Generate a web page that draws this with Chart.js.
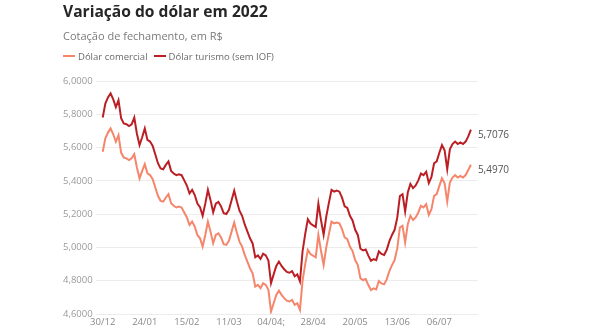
<!DOCTYPE html>
<html>
<head>
<meta charset="utf-8">
<script src="https://cdn.jsdelivr.net/npm/chart.js@4/dist/chart.umd.min.js"></script>
<style>
  body { margin: 0; background: #fff; font-family: "Open Sans", sans-serif; }
  #wrap { position: relative; width: 590px; height: 330px; }
  #chart { position: absolute; left: 0; top: 0; }
  .title { position: absolute; left: 63px; top: 3px; font-size: 15.6px; font-weight: 700; color: #262626; line-height: 16px; white-space: nowrap; }
  .subtitle { position: absolute; left: 63px; top: 30px; font-size: 11px; color: #7a7a7a; line-height: 11px; white-space: nowrap; }
  .legend { position: absolute; left: 63px; top: 51px; font-size: 9.5px; color: #6a6a6a; line-height: 12px; white-space: nowrap; }
  .legend span.sw { display: inline-block; width: 12px; height: 2px; vertical-align: middle; margin-right: 3px; position: relative; top: -1px; }
  .legend span.item { margin-right: 6px; }
</style>
</head>
<body>
<div id="wrap">
  <canvas id="chart" width="590" height="330"></canvas>
  <div class="title">Variação do dólar em 2022</div>
  <div class="subtitle">Cotação de fechamento, em R$</div>
  <div class="legend" id="legend"></div>
</div>
<script>
// Closing quotes, one value per trading day from 30/12/2021
const comercial = [
  5.575, 5.655, 5.69, 5.715, 5.68, 5.635, 5.675, 5.57, 5.54, 5.535,
  5.525, 5.535, 5.56, 5.48, 5.415, 5.46, 5.50, 5.445, 5.435, 5.41,
  5.36, 5.31, 5.28, 5.275, 5.30, 5.32, 5.265, 5.25, 5.24, 5.245,
  5.24, 5.21, 5.18, 5.135, 5.155, 5.125, 5.075, 5.055, 5.005, 5.075,
  5.155, 5.095, 5.025, 5.075, 5.085, 5.06, 5.02, 5.015, 5.04, 5.095,
  5.15, 5.09, 5.035, 5.005, 4.955, 4.915, 4.875, 4.845, 4.765, 4.775,
  4.755, 4.785, 4.775, 4.745, 4.615, 4.665, 4.715, 4.74, 4.715, 4.695,
  4.68, 4.675, 4.685, 4.655, 4.665, 4.625, 4.80, 4.90, 4.985, 4.96,
  4.95, 4.94, 5.075, 4.98, 4.895, 5.00, 5.08, 5.155, 5.145, 5.15,
  5.145, 5.11, 5.06, 5.05, 5.005, 4.978, 4.924, 4.894, 4.814, 4.804,
  4.81, 4.774, 4.744, 4.754, 4.748, 4.798, 4.784, 4.778, 4.808, 4.858,
  4.894, 4.924, 4.994, 5.12, 5.13, 5.03, 5.14, 5.19, 5.165, 5.18,
  5.21, 5.25, 5.24, 5.26, 5.195, 5.23, 5.31, 5.32, 5.37, 5.415,
  5.385, 5.275, 5.39, 5.42, 5.435, 5.42, 5.43, 5.42, 5.435, 5.465,
  5.497
];
const turismo = [
  5.781, 5.864, 5.901, 5.926, 5.890, 5.843, 5.885, 5.776, 5.745, 5.740,
  5.729, 5.740, 5.78, 5.683, 5.615, 5.662, 5.715, 5.646, 5.636, 5.610,
  5.558, 5.506, 5.475, 5.470, 5.496, 5.517, 5.460, 5.444, 5.434, 5.439,
  5.434, 5.403, 5.372, 5.325, 5.346, 5.315, 5.263, 5.242, 5.190, 5.263,
  5.346, 5.284, 5.211, 5.263, 5.273, 5.247, 5.206, 5.201, 5.226, 5.284,
  5.341, 5.278, 5.221, 5.190, 5.138, 5.097, 5.055, 5.024, 4.941, 4.952,
  4.931, 4.962, 4.952, 4.921, 4.786, 4.838, 4.889, 4.915, 4.889, 4.869,
  4.853, 4.848, 4.858, 4.827, 4.838, 4.796, 4.978, 5.081, 5.169, 5.144,
  5.133, 5.123, 5.263, 5.164, 5.076, 5.185, 5.268, 5.346, 5.335, 5.341,
  5.335, 5.299, 5.247, 5.237, 5.190, 5.162, 5.106, 5.075, 4.992, 4.982,
  4.988, 4.951, 4.920, 4.930, 4.924, 4.976, 4.961, 4.955, 4.986, 5.038,
  5.075, 5.106, 5.179, 5.309, 5.320, 5.216, 5.330, 5.382, 5.356, 5.372,
  5.403, 5.444, 5.434, 5.455, 5.387, 5.424, 5.506, 5.517, 5.569, 5.615,
  5.584, 5.470, 5.589, 5.621, 5.636, 5.621, 5.631, 5.621, 5.636, 5.667,
  5.7076
];
// x-axis labels, one every 16 trading days
const tickLabels = ['30/12', '24/01', '15/02', '11/03', '04/04;', '28/04', '20/05', '13/06', '06/07'];
const tickEvery = 16;
const yTicks = [4.6, 4.8, 5.0, 5.2, 5.4, 5.6, 5.8, 6.0];

const seriesNames = ['Dólar comercial', 'Dólar turismo (sem IOF)'];
const colors = ['#f5866c', '#bb1f24'];

const fmt = v => v.toFixed(4).replace('.', ',');
const font = { family: 'Open Sans', size: 9.5 };

// legend
document.getElementById('legend').innerHTML = seriesNames.map((n, i) =>
  '<span class="item"><span class="sw" style="background:' + colors[i] + '"></span>' + n + '</span>'
).join('');

// value label at the end of each line
const endLabels = {
  id: 'endLabels',
  afterDatasetsDraw(chart) {
    const ctx = chart.ctx;
    chart.data.datasets.forEach((ds, i) => {
      const meta = chart.getDatasetMeta(i);
      const pt = meta.data[meta.data.length - 1];
      const last = ds.data[ds.data.length - 1].y;
      ctx.save();
      ctx.font = '10px "Open Sans"';
      ctx.fillStyle = '#555';
      ctx.textBaseline = 'middle';
      ctx.fillText(fmt(last), pt.x + 7, pt.y + 5);
      ctx.restore();
    });
  }
};

const toPoints = arr => arr.map((v, i) => ({ x: i, y: v }));

new Chart(document.getElementById('chart'), {
  type: 'line',
  data: {
    datasets: [comercial, turismo].map((arr, i) => ({
      label: seriesNames[i],
      data: toPoints(arr),
      borderColor: colors[i],
      backgroundColor: colors[i],
      borderWidth: 2,
      pointRadius: 0,
      tension: 0
    }))
  },
  options: {
    responsive: false,
    animation: false,
    layout: { padding: { left: 60, right: 112, top: 81, bottom: 1 } },
    plugins: { legend: { display: false }, tooltip: { enabled: false } },
    scales: {
      x: {
        type: 'linear',
        min: -2.7,
        max: comercial.length - 1 + 2.7,
        grid: { display: false, drawTicks: false },
        border: { display: false },
        afterFit: axis => { axis.height = 15; },
        afterBuildTicks: axis => { axis.ticks = tickLabels.map((_, k) => ({ value: k * tickEvery })); },
        ticks: {
          autoSkip: false, maxRotation: 0, padding: 3, color: '#8a8a8a', font,
          callback: v => tickLabels[v / tickEvery]
        }
      },
      y: {
        min: yTicks[0],
        max: yTicks[yTicks.length - 1],
        afterBuildTicks: axis => { axis.ticks = yTicks.map(v => ({ value: v })); },
        grid: { color: '#ececec', drawTicks: false },
        border: { display: false },
        ticks: { padding: 3, color: '#9a9a9a', font, callback: v => fmt(v) }
      }
    }
  },
  plugins: [endLabels]
});
</script>
</body>
</html>
